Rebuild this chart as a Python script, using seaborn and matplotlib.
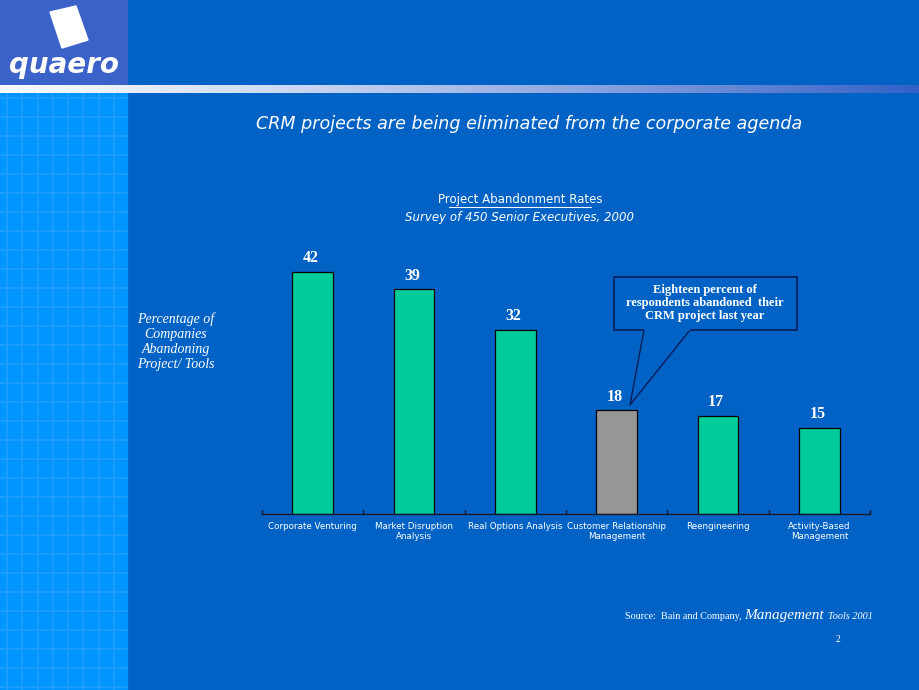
import numpy as np
import pandas as pd
import seaborn as sns
import matplotlib.pyplot as plt
from matplotlib.patches import Rectangle, Polygon

# chart data
categories = ["Corporate Venturing", "Market Disruption\nAnalysis", "Real Options Analysis",
              "Customer Relationship\nManagement", "Reengineering", "Activity-Based\nManagement"]
rates = [42, 39, 32, 18, 17, 15]
bar_colors = ["#00CC99", "#00CC99", "#00CC99", "#969696", "#00CC99", "#00CC99"]

bg_blue = "#0062C4"
W, H = 920, 690

sns.set_theme(style="white")
plt.rcParams['font.family'] = ['DejaVu Sans']

fig = plt.figure(figsize=(9.2, 6.9), dpi=100)
fig.patch.set_facecolor(bg_blue)

# background decorations in pixel coordinates
bg = fig.add_axes([0, 0, 1, 1])
bg.add_patch(Rectangle((0, 93), 127, H - 93, color="#0095FF", zorder=0))
for gx in np.arange(7, 127, 15.3):
    bg.plot([gx, gx], [93, H], color="#1E9DFF", lw=1.3, zorder=1)
for gy in np.arange(98, H, 19):
    bg.plot([0, 127], [gy, gy], color="#1E9DFF", lw=1.3, zorder=1)
bg.add_patch(Rectangle((0, 0), 127, 85, color="#3A62C9", zorder=1))
grad = np.linspace(0, 1, 256)
white = np.array([0.97, 0.98, 1.0])
blue = np.array([0.2, 0.38, 0.78])
stripe = (white[None, :] * (1 - grad[:, None] ** 1.3) + blue[None, :] * grad[:, None] ** 1.3)[None]
bg.imshow(stripe, extent=(0, W, 93, 85), aspect="auto", zorder=2)
bg.set_xlim(0, W)
bg.set_ylim(H, 0)
bg.axis("off")

# logo
bg.add_patch(Polygon([[50, 12], [76, 6], [88, 40], [62, 48]], closed=True, color="white", zorder=3))
bg.text(64, 65, "quaero", color="white", fontsize=20, fontweight="bold", style="italic",
        ha="center", va="center", zorder=4)

# titles
bg.text(529, 124, "CRM projects are being eliminated from the corporate agenda", color="white",
        fontsize=12.6, style="italic", ha="center", va="center")
bg.text(520, 200, "Project Abandonment Rates", color="white", fontsize=8.5, ha="center",
        va="center")
bg.plot([449, 591], [206.5, 206.5], color="white", lw=0.8)
bg.text(520, 217, "Survey of 450 Senior Executives, 2000", color="white", fontsize=8.5,
        style="italic", ha="center", va="center")
bg.text(176, 342, "Percentage of\nCompanies\nAbandoning\nProject/ Tools", color="white",
        fontsize=10, style="italic", family="Liberation Serif", ha="center", va="center",
        linespacing=1.2)

# source and page number, chained left to right
fig.canvas.draw()
renderer = fig.canvas.get_renderer()
x0 = 625
for txt, size, st in [("Source:  Bain and Company, ", 7.3, "normal"),
                      ("Management ", 11, "italic"),
                      ("Tools 2001", 7.3, "italic")]:
    t = bg.text(x0, 619, txt, color="white", fontsize=size, style=st,
                family="Liberation Serif", ha="left", va="baseline")
    ext = t.get_window_extent(renderer)
    x0 += ext.width
bg.text(838, 640, "2", color="white", fontsize=7, family="Liberation Serif",
        ha="center", va="center")

# bar chart
df = pd.DataFrame({"category": categories, "rate": rates})
ax = fig.add_axes([262 / W, (H - 514) / H, (870 - 262) / W, 274 / H])
ax.set_facecolor("none")
sns.barplot(data=df, x="category", y="rate", hue="category", palette=bar_colors,
            width=0.4, edgecolor="black", linewidth=0.9, saturation=1, legend=False, ax=ax)
ax.set_ylim(0, 274 / 5.76)
ax.set_xlim(-0.5, len(categories) - 0.5)
for s in ["top", "right", "left"]:
    ax.spines[s].set_visible(False)
ax.spines["bottom"].set_color("#1a1a2e")
ax.spines["bottom"].set_linewidth(1.0)
ax.set_yticks([])
ax.set_xlabel("")
ax.set_ylabel("")
ax.set_xticks(np.arange(len(categories)))
ax.set_xticklabels(categories, color="white", fontsize=6.3, linespacing=1.1)
ax.tick_params(axis="x", length=0, pad=6)
for b in np.arange(-0.5, len(categories), 1.0):
    ax.plot([b, b], [0, 0.7], color="#1a1a2e", lw=1, clip_on=False)
for i, v in enumerate(rates):
    ax.text(i - 0.02, v + 1.0, str(v), color="white", fontsize=11.5, fontweight="bold",
            family="Liberation Serif", ha="center", va="bottom")

# callout
bg.add_patch(Rectangle((614, 277), 183, 53, facecolor=bg_blue, edgecolor="#0A1E5A", lw=1.2,
                       zorder=5))
bg.text(705, 303, "Eighteen percent of\nrespondents abandoned  their\nCRM project last year",
        color="white", fontsize=9, fontweight="bold", family="Liberation Serif",
        ha="center", va="center", linespacing=1.15, zorder=6)
bg.plot([644, 630, 690], [330, 405, 330], color="#0A1E5A", lw=1, zorder=5)
bg.plot([645, 689], [330, 330], color=bg_blue, lw=1.6, zorder=5)

fig.savefig("out.png", dpi=100, facecolor=fig.get_facecolor())
